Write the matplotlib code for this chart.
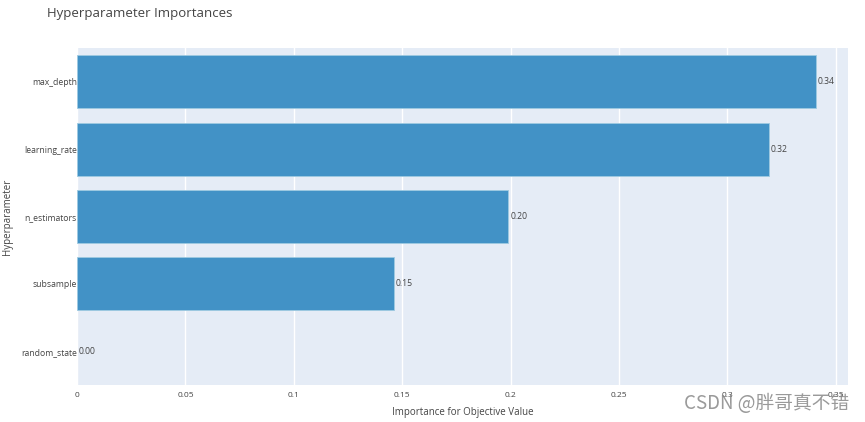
import matplotlib; matplotlib.use("Agg")
import matplotlib.pyplot as plt

params = ["max_depth", "learning_rate", "n_estimators", "subsample", "random_state"]
importance = [0.341, 0.319, 0.199, 0.146, 0.0]
labels = ["0.34", "0.32", "0.20", "0.15", "0.00"]
xticks = [0, 0.05, 0.1, 0.15, 0.2, 0.25, 0.3, 0.35]
xticklabels = ["0", "0.05", "0.1", "0.15", "0.2", "0.25", "0.3", "0.35"]

plt.rcParams["font.family"] = ["Open Sans", "DejaVu Sans"]
txt = "#444444"

fig = plt.figure(figsize=(8.65, 4.22), dpi=100)
ax = fig.add_axes([0.089, 0.088, 0.891, 0.798])
ax.set_facecolor("#E5ECF6")
ypos = list(range(len(params)))
lws = [0.6 if v > 0 else 0 for v in importance]
ax.barh(ypos, importance, height=0.79, color="#4292C6", edgecolor="#9ECAE1", lw=lws, zorder=2)
for y, v, s in zip(ypos, importance, labels):
    ax.text(v + 0.0008, y, s, va="center", ha="left", fontsize=6.2, color=txt, zorder=3)

ax.set_ylim(4.5, -0.5)
ax.set_xlim(0, 0.3555)
ax.set_yticks(ypos)
ax.set_yticklabels(params, fontsize=6.2, color=txt)
ax.set_xticks(xticks)
ax.set_xticklabels(xticklabels, fontsize=6, color=txt)
ax.tick_params(length=0, pad=5)
ax.tick_params(axis="y", pad=0)
ax.grid(axis="x", color="white", lw=1, zorder=0)
ax.set_axisbelow(True)
for s in ax.spines.values():
    s.set_visible(False)
ax.set_xlabel("Importance for Objective Value", fontsize=7, color=txt, labelpad=6)
ax.set_ylabel("Hyperparameter", fontsize=7, color=txt, labelpad=6)

fig.text(0.054, 0.968, "Hyperparameter Importances", fontsize=9.5, color=txt, va="center", ha="left")
# watermark sits over the last tick labels, as in the source image
fig.text(0.982, 0.045, "CSDN @胖哥真不错", fontsize=13.5, color="#888888", alpha=0.85,
         ha="right", va="center", family=["Noto Sans CJK SC", "DejaVu Sans"])

plt.savefig("out.png", dpi=100)
